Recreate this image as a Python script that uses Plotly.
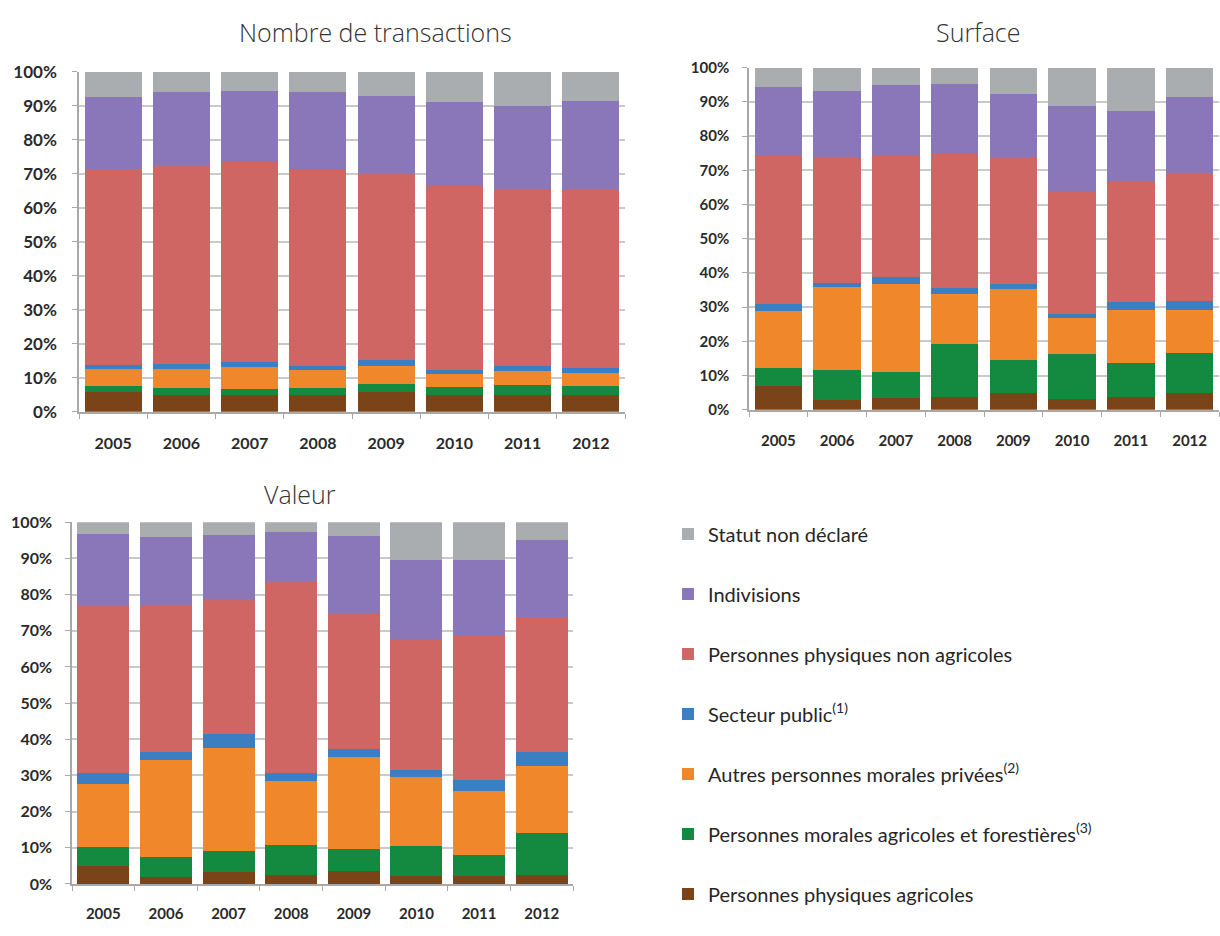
import plotly.graph_objects as go

years = ["2005", "2006", "2007", "2008", "2009", "2010", "2011", "2012"]

series_names = [
    "Personnes physiques agricoles",
    "Personnes morales agricoles et forestières<sup>(3)</sup>",
    "Autres personnes morales privées<sup>(2)</sup>",
    "Secteur public<sup>(1)</sup>",
    "Personnes physiques non agricoles",
    "Indivisions",
    "Statut non déclaré",
]
colors = ["#7a4318", "#138a40", "#f0872a", "#3b7fc2", "#cf6664", "#8a77b9", "#a9adaf"]

# Nombre de transactions (% per year, bottom to top)
trans_ppa = [5.9, 5.0, 5.0, 4.8, 5.7, 4.8, 5.0, 4.8]
trans_pmaf = [1.8, 2.0, 1.7, 2.1, 2.6, 2.4, 2.8, 2.9]
trans_apmp = [4.9, 5.6, 6.5, 5.3, 5.3, 4.0, 4.2, 3.8]
trans_sp = [1.3, 1.5, 1.3, 1.4, 1.7, 1.2, 1.4, 1.4]
trans_ppna = [57.4, 58.3, 58.9, 57.4, 55.0, 54.1, 51.7, 52.2]
trans_ind = [21.3, 21.6, 20.9, 23.0, 22.5, 24.7, 24.7, 26.3]
trans_snd = [7.4, 6.0, 5.7, 6.0, 7.2, 8.8, 10.2, 8.6]

# Surface
surf_ppa = [6.9, 2.9, 3.6, 3.8, 5.0, 3.1, 3.8, 4.8]
surf_pmaf = [5.2, 8.8, 7.5, 15.4, 9.6, 13.1, 10.0, 11.9]
surf_apmp = [16.8, 24.3, 25.8, 14.8, 20.6, 10.7, 15.4, 12.6]
surf_sp = [1.9, 1.0, 2.0, 1.7, 1.7, 1.0, 2.2, 2.4]
surf_ppna = [43.3, 36.6, 35.2, 39.1, 36.9, 36.2, 35.3, 37.3]
surf_ind = [20.2, 19.5, 20.9, 20.4, 18.6, 24.7, 20.7, 22.4]
surf_snd = [5.7, 6.9, 5.0, 4.8, 7.6, 11.2, 12.6, 8.6]

# Valeur
val_ppa = [5.1, 2.0, 3.4, 2.5, 3.6, 2.3, 2.3, 2.5]
val_pmaf = [5.1, 5.4, 5.6, 8.3, 6.0, 8.2, 5.6, 11.5]
val_apmp = [17.5, 27.0, 28.6, 17.6, 25.5, 19.2, 17.8, 18.6]
val_sp = [3.1, 2.1, 3.8, 2.4, 2.3, 1.8, 3.1, 3.9]
val_ppna = [46.2, 40.3, 37.3, 53.0, 37.4, 36.2, 40.1, 37.4]
val_ind = [19.7, 19.0, 17.9, 13.5, 21.4, 21.9, 20.7, 21.1]
val_snd = [3.3, 4.2, 3.4, 2.7, 3.8, 10.4, 10.4, 5.0]

tick_vals = [0, 10, 20, 30, 40, 50, 60, 70, 80, 90, 100]
tick_text = ["0%", "10%", "20%", "30%", "40%", "50%", "60%", "70%", "80%", "90%", "100%"]

charts = [
    ("x", "y", [trans_ppa, trans_pmaf, trans_apmp, trans_sp, trans_ppna, trans_ind, trans_snd], 0.835, True),
    ("x2", "y2", [surf_ppa, surf_pmaf, surf_apmp, surf_sp, surf_ppna, surf_ind, surf_snd], 0.81, False),
    ("x3", "y3", [val_ppa, val_pmaf, val_apmp, val_sp, val_ppna, val_ind, val_snd], 0.83, False),
]

fig = go.Figure()
for xa, ya, data, w, show in charts:
    for i, (name, vals) in enumerate(zip(series_names, data)):
        fig.add_trace(go.Bar(
            x=years, y=vals, name=name, xaxis=xa, yaxis=ya,
            marker=dict(color=colors[i], line=dict(width=0)),
            width=w, legendgroup=name, showlegend=show,
            legendrank=100 - i,
        ))

grid = "#c9c9c9"
axis_line = "#a8a8a8"
tick_font_family = "Lato"


def yaxis(domain, anchor, size, standoff):
    return dict(domain=domain, anchor=anchor, range=[0, 100], tickvals=tick_vals,
                ticktext=tick_text, showgrid=True, gridcolor=grid, gridwidth=1.5,
                showline=True, linecolor=axis_line, linewidth=1.5,
                ticks="outside", ticklen=5, tickcolor=axis_line,
                ticklabelstandoff=standoff,
                tickfont=dict(family=tick_font_family, size=size, color="#2a2a2a", weight="bold"),
                zeroline=False, fixedrange=True)


def xaxis(domain, anchor, size, standoff):
    return dict(domain=domain, anchor=anchor, type="category",
                showline=True, linecolor=axis_line, linewidth=1.5,
                ticks="outside", ticklen=5, tickcolor=axis_line, tickson="boundaries",
                ticklabelstandoff=standoff,
                tickfont=dict(family=tick_font_family, size=size, color="#2a2a2a", weight="bold"),
                showgrid=False, fixedrange=True)


title_font = dict(family="Open Sans", size=25, color="#333333", weight=300)

fig.update_layout(
    width=1220, height=936,
    margin=dict(l=0, r=0, t=0, b=0),
    paper_bgcolor="white", plot_bgcolor="white",
    barmode="stack",
    xaxis=xaxis([79 / 1220, 625 / 1220], "y", 16, 16),
    yaxis=yaxis([(936 - 410) / 936, (936 - 62) / 936], "x", 17, 12),
    xaxis2=xaxis([749 / 1220, 1219 / 1220], "y2", 15, 16),
    yaxis2=yaxis([(936 - 408) / 936, (936 - 58) / 936], "x2", 15, 10),
    xaxis3=xaxis([72 / 1220, 573 / 1220], "y3", 15, 15),
    yaxis3=yaxis([(936 - 893) / 936, (936 - 523) / 936], "x3", 16, 10),
    legend=dict(
        x=668 / 1220, y=(936 - 515) / 936, xanchor="left", yanchor="top",
        traceorder="grouped", tracegroupgap=31,
        font=dict(family="Lato", size=20, color="#262626"),
        itemwidth=30, bgcolor="rgba(0,0,0,0)",
    ),
    annotations=[
        dict(text="Nombre de transactions", x=375 / 1220, y=(936 - 21) / 936, xref="paper", yref="paper",
             xanchor="center", yanchor="middle", showarrow=False, font=title_font),
        dict(text="Surface", x=978 / 1220, y=(936 - 21) / 936, xref="paper", yref="paper",
             xanchor="center", yanchor="middle", showarrow=False, font=title_font),
        dict(text="Valeur", x=300 / 1220, y=(936 - 494) / 936, xref="paper", yref="paper",
             xanchor="center", yanchor="middle", showarrow=False, font=title_font),
    ],
)

fig.write_html("out.html")
